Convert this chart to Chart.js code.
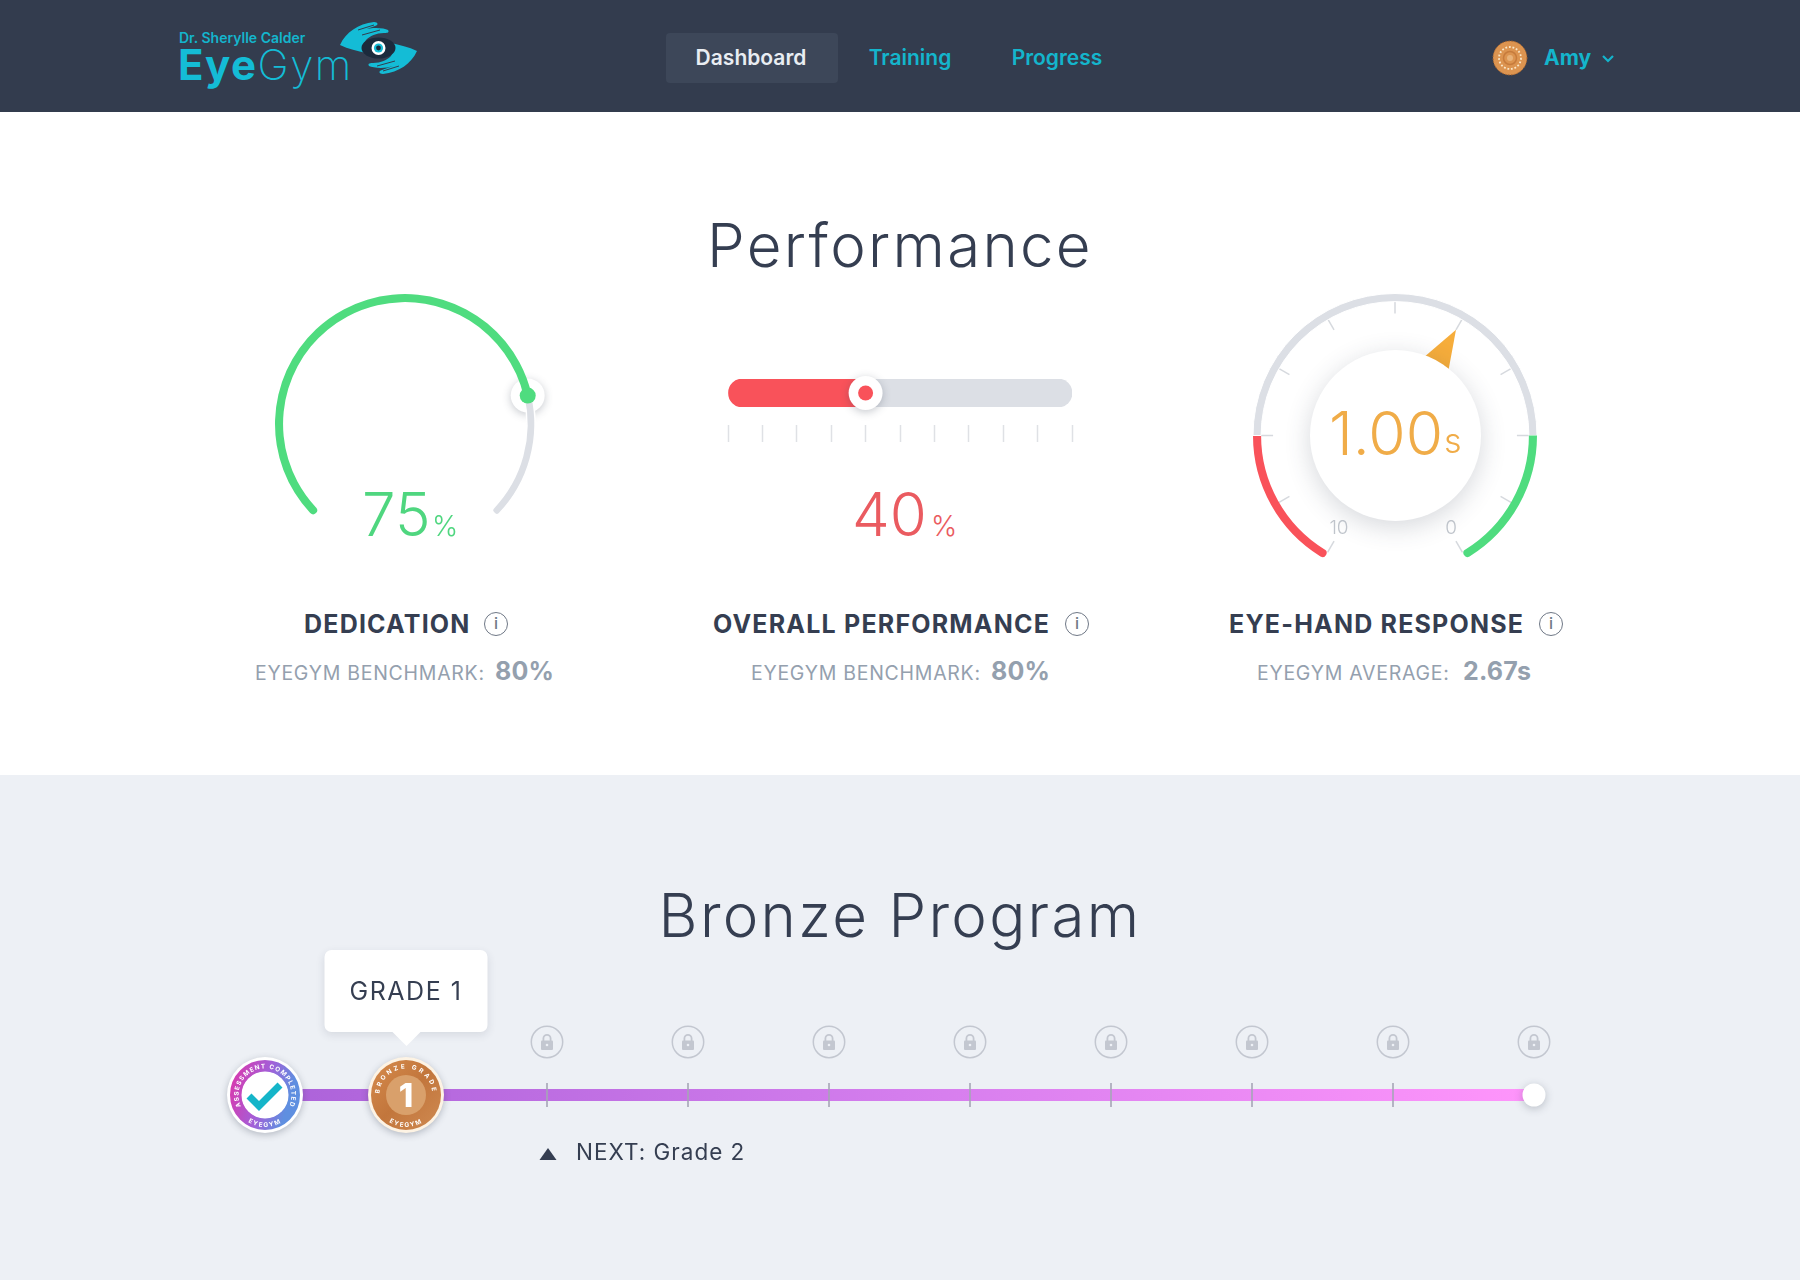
<!DOCTYPE html>
<html>
<head>
<meta charset="utf-8">
<title>EyeGym Dashboard</title>
<script src="https://cdn.jsdelivr.net/npm/chart.js@4"></script>
<style>
  * { box-sizing: border-box; }
  html, body { margin: 0; width: 1800px; height: 1280px; overflow: hidden; background: #fff; font-family: Inter, "Noto Sans", sans-serif; color: #353e51; }
  .abs { position: absolute; white-space: nowrap; }
  .c { transform: translate(-50%, -50%); }
  .l { transform: translateY(-50%); }
  canvas { position: absolute; }
  #header { left: 0; top: 0; width: 1800px; height: 112px; background: #333c4e; }
  #lower { left: 0; top: 775px; width: 1800px; height: 505px; background: #edf0f5; }
  #navActive { left: 666px; top: 33px; width: 172px; height: 50px; background: #3d4759; border-radius: 4px; }
  .nav { font-size: 21px; font-weight: 600; color: #14b5cc; }
  .title { font-size: 60px; font-weight: 280; color: #353e51; letter-spacing: 2.3px; }
  .head { font-size: 25px; font-weight: 700; color: #353e51; letter-spacing: 1.2px; }
  .sub { font-size: 19.5px; font-weight: 400; color: #94a0ae; letter-spacing: .73px; }
  .subval { font-size: 25px; font-weight: 700; color: #94a0ae; letter-spacing: .2px; }
  .big { font-size: 60px; font-weight: 300; }
  .unit { font-size: 28px; font-weight: 300; }
  .info { width: 24px; height: 24px; border: 1.5px solid #6f7886; border-radius: 50%; font-size: 16px; line-height: 21px; text-align: center; color: #6f7886; font-weight: 500; }
  #innerDial { left: 1310px; top: 350px; width: 171px; height: 171px; border-radius: 50%; background: #fff; box-shadow: 0 6px 26px rgba(50, 60, 80, .2); }
  #tip { width: 163px; height: 82px; background: #fff; border-radius: 7px; box-shadow: 0 3px 8px rgba(50, 60, 80, .12); font-size: 25px; line-height: 82px; text-align: center; letter-spacing: 1.5px; transform: translateX(-50%); }
  #tip:after { content: ""; position: absolute; left: 50%; top: 82px; margin-left: -14px; border: 14px solid transparent; border-top-color: #fff; border-bottom: 0; }
</style>
</head>
<body>
<div class="abs" id="header"></div>
<div class="abs" id="lower"></div>

<!-- logo -->
<svg class="abs" style="left:170px;top:10px" width="270" height="90" viewBox="170 10 270 90">
  <text x="179" y="43" font-family="Inter" font-size="14" font-weight="600" fill="#14b5cc">Dr. Sherylle Calder</text>
  <text x="178" y="80" font-family="Inter" font-size="42" letter-spacing="1.5" fill="#14bcd6"><tspan font-weight="700">Eye</tspan><tspan font-weight="200">Gym</tspan></text>
  <g id="hand">
    <path d="M340 45 C346 32 358 24 374 22 C378 22 379 25 375 26 L364 30 C372 27 384 28 388 30 C390 33 386 33 384 33 C376 33 370 36 366 40 C364 44 362 48 366 53 C358 51 348 49 340 45 Z" fill="#14bcd6"/>
    <path d="M358 30 L374 25 M362 35 L380 30" stroke="#333c4e" stroke-width="1"/>
  </g>
  <use href="#hand" transform="rotate(180 378.5 48)"/>
  <ellipse cx="378.5" cy="48" rx="17" ry="10.5" fill="#1c2a3c"/>
  <circle cx="378.5" cy="48" r="7" fill="#fff"/>
  <circle cx="378.5" cy="48" r="4.6" fill="#14bcd6"/>
  <circle cx="378.5" cy="48" r="2.4" fill="#1c2a3c"/>
</svg>

<div class="abs" id="navActive"></div>
<div class="abs c nav" style="left:751px;top:57px;color:#e9edf2">Dashboard</div>
<div class="abs c nav" style="left:910px;top:57px">Training</div>
<div class="abs c nav" style="left:1057px;top:57px">Progress</div>
<svg class="abs" style="left:1491px;top:39px" width="38" height="38" viewBox="0 0 38 38">
  <circle cx="19" cy="19" r="17" fill="#dc9450" stroke="#a8632b" stroke-width="1" stroke-dasharray="1.5 1.5"/>
  <circle cx="19" cy="19" r="11" fill="none" stroke="#f9e6c8" stroke-width="1.8" stroke-dasharray="1.8 1.8"/>
  <circle cx="19" cy="19" r="6.5" fill="none" stroke="#c67b3c" stroke-width="1.5"/>
  <circle cx="19" cy="19" r="3" fill="#e8b279"/>
</svg>
<div class="abs l nav" style="left:1544px;top:57px;font-weight:700">Amy</div>
<svg class="abs" style="left:1601px;top:54px" width="14" height="10" viewBox="0 0 14 10">
  <path d="M2 2 L7 7 L12 2" fill="none" stroke="#14b5cc" stroke-width="2.2"/>
</svg>

<div class="abs c title" style="left:900px;top:245px">Performance</div>

<!-- dedication -->
<canvas id="dedicationChart" width="300" height="300" style="left:255px;top:255px"></canvas>
<div class="abs l big" style="left:362px;top:514px;color:#4fd67f">75</div>
<div class="abs l unit" style="left:432px;top:526px;color:#4fd67f">%</div>
<div class="abs l head" style="left:304px;top:624px">DEDICATION</div>
<div class="abs c info" style="left:496px;top:624px">i</div>
<div class="abs l sub" style="left:255px;top:673px">EYEGYM BENCHMARK:</div>
<div class="abs l subval" style="left:495px;top:671px">80%</div>

<!-- overall -->
<canvas id="overallChart" width="404" height="88" style="left:698px;top:359px"></canvas>
<div class="abs l big" style="left:852px;top:514px;color:#ea5b60">40</div>
<div class="abs l unit" style="left:931px;top:526px;color:#ea5b60">%</div>
<div class="abs l head" style="left:713px;top:624px">OVERALL PERFORMANCE</div>
<div class="abs c info" style="left:1077px;top:624px">i</div>
<div class="abs l sub" style="left:751px;top:673px">EYEGYM BENCHMARK:</div>
<div class="abs l subval" style="left:991px;top:671px">80%</div>

<!-- response -->
<canvas id="responseChart" width="320" height="320" style="left:1235px;top:266px"></canvas>
<div class="abs" id="innerDial"></div>
<div class="abs l big" style="left:1329px;top:433px;color:#f0ac48;font-size:60.5px">1.00</div>
<div class="abs l unit" style="left:1444px;top:440px;color:#f0ac48;font-size:34px">s</div>
<div class="abs c" style="left:1339px;top:527px;font-size:19px;color:#bfc4cb;font-weight:300">10</div>
<div class="abs c" style="left:1451px;top:527px;font-size:19px;color:#bfc4cb;font-weight:300">0</div>
<div class="abs l head" style="left:1229px;top:624px">EYE-HAND RESPONSE</div>
<div class="abs c info" style="left:1551px;top:624px">i</div>
<div class="abs l sub" style="left:1257px;top:673px">EYEGYM AVERAGE:</div>
<div class="abs l subval" style="left:1463px;top:671px">2.67s</div>

<div class="abs c title" style="left:900px;top:915px">Bronze Program</div>

<!-- program timeline -->
<canvas id="programChart" width="1389" height="100" style="left:205px;top:1045px"></canvas>
<div id="programOverlay"></div>

<script>
// =================== Datos ===================
const dedicationLabels = ["Completed", "Remaining"];
const dedicationArc = [78.5, 21.5]; // the drawn arc ends a bit past the printed 75%

const overallLabels = ["Overall"];
const overallScore = [40];
const overallRest = [60];
const overallTicks = [0, 100];

const responseLabels = ["Slow", "Middle", "Fast"];
const responseSegments = [2, 6, 2];
const responseTicks = [10, 9, 8, 7, 6, 5, 4, 3, 2, 1, 0];
const responseNeedle = [4];

const programSteps = ["Assessment", "Grade 1", "Grade 2", "Grade 3", "Grade 4", "Grade 5", "Grade 6", "Grade 7", "Grade 8", "Grade 9"];
const programLevel = [1, 1, 1, 1, 1, 1, 1, 1, 1, 1];
const programKinds = ["done", "current", "locked", "locked", "locked", "locked", "locked", "locked", "locked", "end"];

// =================== Helpers ===================
const GREEN = "#4fdc7f";
const RED = "#f9525a";
const TRACK = "#dcdfe5";
const ORANGE = "#f6ad3b";

function disc(ctx, x, y, r, color, shadow) {
  ctx.save();
  if (shadow) {
    ctx.shadowColor = "rgba(50,60,80,.28)";
    ctx.shadowBlur = 9;
    ctx.shadowOffsetY = 2;
  }
  ctx.fillStyle = color;
  ctx.beginPath();
  ctx.arc(x, y, r, 0, Math.PI * 2);
  ctx.fill();
  ctx.restore();
}

const baseOptions = {
  responsive: false,
  animation: false,
  events: [],
  plugins: { legend: { display: false }, tooltip: { enabled: false } }
};

// =================== Dedication ===================
function dedicationEnd(chart) {
  const arc = chart.getDatasetMeta(0).data[0];
  const r = (arc.outerRadius + arc.innerRadius) / 2;
  return { x: arc.x + Math.cos(arc.endAngle) * r, y: arc.y + Math.sin(arc.endAngle) * r };
}

new Chart(document.getElementById("dedicationChart"), {
  type: "doughnut",
  data: {
    labels: dedicationLabels,
    datasets: [{
      data: dedicationArc,
      backgroundColor: [GREEN, TRACK],
      borderColor: "#fff",
      borderWidth: [0, 1.5],
      borderRadius: [
        { outerStart: 4, innerStart: 4, outerEnd: 0, innerEnd: 0 },
        { outerStart: 0, innerStart: 0, outerEnd: 3, innerEnd: 3 }
      ]
    }]
  },
  options: { ...baseOptions, rotation: -135, circumference: 270, radius: 130, cutout: "93.8%" },
  plugins: [{
    id: "dedicationKnob",
    beforeDatasetsDraw(chart) {
      const p = dedicationEnd(chart);
      disc(chart.ctx, p.x, p.y, 17, "#fff", true);
    },
    afterDatasetsDraw(chart) {
      const p = dedicationEnd(chart);
      disc(chart.ctx, p.x, p.y, 8, GREEN);
    }
  }]
});

// =================== Overall ===================
new Chart(document.getElementById("overallChart"), {
  type: "bar",
  data: {
    labels: overallLabels,
    datasets: [
      { data: overallScore, backgroundColor: RED, borderSkipped: false, borderRadius: { topLeft: 14, bottomLeft: 14 } },
      { data: overallRest, backgroundColor: TRACK, borderSkipped: false, borderRadius: { topRight: 14, bottomRight: 14 } }
    ]
  },
  options: {
    ...baseOptions,
    indexAxis: "y",
    categoryPercentage: 1,
    barPercentage: 1,
    layout: { padding: { left: 30, right: 30, top: 20, bottom: 5 } },
    scales: {
      x: {
        stacked: true,
        min: overallTicks[0],
        max: overallTicks[1],
        ticks: { display: false, stepSize: 10 },
        border: { display: false },
        grid: {
          drawOnChartArea: false,
          tickLength: 35,
          tickWidth: 1.5,
          tickColor: "#dfe1e5",
          tickBorderDash: [0, 18, 17, 100]
        }
      },
      y: { stacked: true, display: false }
    }
  },
  plugins: [{
    id: "overallKnob",
    afterDatasetsDraw(chart) {
      const x = chart.scales.x.getPixelForValue(overallScore[0]);
      const y = (chart.chartArea.top + chart.chartArea.bottom) / 2;
      disc(chart.ctx, x, y, 17, "#fff", true);
      disc(chart.ctx, x, y, 7.5, RED);
    }
  }]
});

// =================== Response ===================
const RESPONSE_START = -150;
const RESPONSE_SWEEP = 300;

function responseAngle(value) {
  const total = responseTicks[0];
  const deg = RESPONSE_START + RESPONSE_SWEEP * (total - value) / total;
  return (deg - 90) * Math.PI / 180;
}

new Chart(document.getElementById("responseChart"), {
  type: "doughnut",
  data: {
    labels: responseLabels,
    datasets: [{
      data: responseSegments,
      backgroundColor: [RED, TRACK, GREEN],
      borderColor: "#fff",
      borderWidth: [0, 1, 0],
      borderRadius: [
        { outerStart: 4, innerStart: 4, outerEnd: 0, innerEnd: 0 },
        0,
        { outerStart: 0, innerStart: 0, outerEnd: 4, innerEnd: 4 }
      ]
    }]
  },
  options: { ...baseOptions, rotation: RESPONSE_START, circumference: RESPONSE_SWEEP, radius: 142, cutout: "94.3%" },
  plugins: [{
    id: "responseDial",
    beforeDatasetsDraw(chart) {
      const ctx = chart.ctx;
      const arc = chart.getDatasetMeta(0).data[0];
      ctx.save();
      ctx.strokeStyle = "#d6d9de";
      ctx.lineWidth = 1.5;
      responseTicks.forEach(v => {
        const a = responseAngle(v);
        ctx.beginPath();
        ctx.moveTo(arc.x + Math.cos(a) * (arc.innerRadius + 1), arc.y + Math.sin(a) * (arc.innerRadius + 1));
        ctx.lineTo(arc.x + Math.cos(a) * (arc.innerRadius - 12), arc.y + Math.sin(a) * (arc.innerRadius - 12));
        ctx.stroke();
      });
      // aguja
      const a = responseAngle(responseNeedle[0]);
      ctx.fillStyle = ORANGE;
      ctx.beginPath();
      ctx.moveTo(arc.x + Math.cos(a) * 122, arc.y + Math.sin(a) * 122);
      ctx.lineTo(arc.x + Math.cos(a - 0.165) * 84, arc.y + Math.sin(a - 0.165) * 84);
      ctx.lineTo(arc.x + Math.cos(a + 0.165) * 84, arc.y + Math.sin(a + 0.165) * 84);
      ctx.closePath();
      ctx.fill();
      ctx.restore();
    }
  }]
});

// =================== Program ===================
const programChart = new Chart(document.getElementById("programChart"), {
  type: "line",
  data: {
    labels: programSteps,
    datasets: [{
      data: programLevel,
      borderWidth: 12,
      borderCapStyle: "butt",
      tension: 0,
      clip: false,
      borderColor(ctx) {
        const area = ctx.chart.chartArea;
        if (!area) return "#c070e8";
        const g = ctx.chart.ctx.createLinearGradient(area.left, 0, area.right, 0);
        g.addColorStop(0, "#ab62d9");
        g.addColorStop(0.5, "#d47ded");
        g.addColorStop(1, "#ff95fb");
        return g;
      },
      pointStyle: ctx => programKinds[ctx.dataIndex] === "locked" ? "line" : "circle",
      pointRotation: 90,
      pointRadius: ctx => programKinds[ctx.dataIndex] === "locked" ? 12 : 0,
      pointBorderColor: "rgba(165,165,182,.8)",
      pointBorderWidth: 2
    }]
  },
  options: {
    ...baseOptions,
    layout: { padding: { left: 60, right: 60 } },
    scales: {
      x: { display: false },
      y: { display: false, min: 0, max: 2 }
    }
  },
  plugins: [{
    id: "programEnd",
    afterDatasetsDraw(chart) {
      const last = programSteps.length - 1;
      const x = chart.scales.x.getPixelForValue(last);
      const y = chart.scales.y.getPixelForValue(programLevel[last]);
      disc(chart.ctx, x, y, 11.5, "#fff", true);
    }
  }]
});

// Insignias, candados y rótulos encima del eje
const OFFSET_X = 205;
const OFFSET_Y = 1045;
const overlay = document.getElementById("programOverlay");

function stepX(i) {
  return OFFSET_X + programChart.scales.x.getPixelForValue(i);
}

const stepY = OFFSET_Y + programChart.scales.y.getPixelForValue(1);

function addSvg(cx, cy, size, inner, extra) {
  const wrap = document.createElement("div");
  wrap.className = "abs";
  wrap.style.left = (cx - size / 2) + "px";
  wrap.style.top = (cy - size / 2) + "px";
  wrap.style.width = size + "px";
  wrap.style.height = size + "px";
  if (extra) wrap.style.cssText += extra;
  wrap.innerHTML = `<svg width="${size}" height="${size}" viewBox="${-size / 2} ${-size / 2} ${size} ${size}" style="display:block">${inner}</svg>`;
  overlay.appendChild(wrap);
}

const badgeDefs = `
  <defs>
    <path id="arcTopA" d="M -24.6 9.8 A 26.5 26.5 0 1 1 24.6 9.8"/>
    <path id="arcBotA" d="M -22 23.2 A 32 32 0 0 0 22 23.2"/>
    <linearGradient id="ringGrad" x1="0" y1="0" x2="1" y2="0.3">
      <stop offset="0" stop-color="#d63bb0"/><stop offset="0.55" stop-color="#a35fd8"/><stop offset="1" stop-color="#5f8fe0"/>
    </linearGradient>
    <linearGradient id="bronzeGrad" x1="0" y1="0" x2="1" y2="1">
      <stop offset="0" stop-color="#d68b4c"/><stop offset="0.5" stop-color="#c2763c"/><stop offset="1" stop-color="#cf8a52"/>
    </linearGradient>
  </defs>`;

const ARC_TEXT = `font-family="Inter" font-size="6.3" font-weight="700" fill="#fff"`;

addSvg(stepX(0), stepY, 76, badgeDefs + `
  <circle r="29" fill="none" stroke="url(#ringGrad)" stroke-width="12"/>
  <circle r="23.5" fill="#fff"/>
  <path d="M-16 1 L-6 11 L15 -10" fill="none" stroke="#15b5c9" stroke-width="7"/>
  <text ${ARC_TEXT} letter-spacing="1.1"><textPath href="#arcTopA" startOffset="50%" text-anchor="middle">ASSESSMENT COMPLETED</textPath></text>
  <text ${ARC_TEXT} letter-spacing="1.4"><textPath href="#arcBotA" startOffset="50%" text-anchor="middle">EYEGYM</textPath></text>
`, "border-radius:50%;background:#fff;box-shadow:0 2px 7px rgba(50,60,80,.3)");

addSvg(stepX(1), stepY, 76, `
  <circle r="35" fill="url(#bronzeGrad)"/>
  <circle r="20" fill="#d9a06b"/>
  <text y="12" text-anchor="middle" font-family="Inter" font-size="33" font-weight="800" fill="#fff">1</text>
  <text ${ARC_TEXT} letter-spacing="2.6"><textPath href="#arcTopA" startOffset="50%" text-anchor="middle">BRONZE GRADE</textPath></text>
  <text ${ARC_TEXT} letter-spacing="1.4"><textPath href="#arcBotA" startOffset="50%" text-anchor="middle">EYEGYM</textPath></text>
`, "border-radius:50%;background:#fdf3e4;box-shadow:0 2px 7px rgba(50,60,80,.3)");

programKinds.forEach((kind, i) => {
  if (kind === "locked" || kind === "end") {
    addSvg(stepX(i), stepY - 53, 34, `
      <circle r="15.7" fill="none" stroke="#c3c7d0" stroke-width="1.5"/>
      <path d="M-3.6 -1 V-3.6 A3.6 3.6 0 0 1 3.6 -3.6 V-1" fill="none" stroke="#c3c7d0" stroke-width="1.8"/>
      <rect x="-6" y="-1.5" width="12" height="9.5" rx="1" fill="#c3c7d0"/>
      <circle cy="3" r="1.3" fill="#edf0f5"/>`);
  }
});

const current = programKinds.indexOf("current");
const tip = document.createElement("div");
tip.id = "tip";
tip.className = "abs";
tip.textContent = "GRADE 1";
tip.style.left = stepX(current) + "px";
tip.style.top = "950px";
overlay.appendChild(tip);

const next = programKinds.indexOf("locked");
addSvg(stepX(next) + 1, 1154, 20, `<path d="M0 -6 L8.5 6 L-8.5 6 Z" fill="#353e51"/>`);
const nextLabel = document.createElement("div");
nextLabel.className = "abs l";
nextLabel.style.cssText += `left:${stepX(next) + 29}px;top:1151px;font-size:22.5px;letter-spacing:1px;color:#353e51`;
nextLabel.textContent = "NEXT: " + programSteps[next];
overlay.appendChild(nextLabel);
</script>
</body>
</html>
